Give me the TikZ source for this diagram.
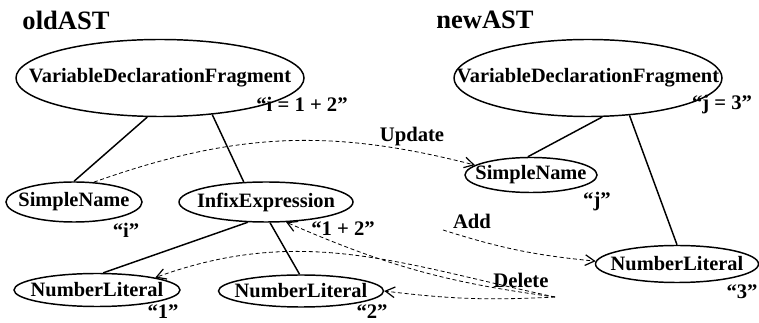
\documentclass[tikz,border=0pt]{standalone}
\usepackage{fontspec}
\setmainfont{Liberation Serif}
\usetikzlibrary{shapes.geometric,arrows.meta}
\def\px{0.75pt}
% ellipse size is set by minimum width/height only
\newcommand\astbox[1]{\makebox[0pt]{#1}}
\tikzset{
  astnode/.style={draw, ellipse, line width=1.1pt, inner sep=0pt, font=\fontsize{15.3}{18}\selectfont\bfseries},
  astlabel/.style={inner sep=0pt, font=\fontsize{15.5}{18}\selectfont\bfseries},
  asttitle/.style={inner sep=0pt, font=\fontsize{19.9}{22}\selectfont\bfseries},
  treeedge/.style={line width=1.1pt},
  editarrow/.style={line width=0.6pt, dash pattern=on 3pt off 2pt, -{Straight Barb[length=7pt,width=8pt,line width=0.9pt]}}
}
\begin{document}
\begin{tikzpicture}[x=\px,y=-\px]
\useasboundingbox (0,0) rectangle (759,323);
% old tree
\node[asttitle] (oldtitle) at (66,20) {oldAST};
\node[astnode, minimum width=288*\px, minimum height=77*\px] (oldvdf) at (160,78) {\astbox{VariableDeclarationFragment}};
\node[astnode, minimum width=136*\px, minimum height=40*\px] (oldsn) at (74,202) {\astbox{SimpleName}};
\node[astnode, minimum width=174*\px, minimum height=40*\px] (oldinfix) at (266,202) {\astbox{InfixExpression}};
\node[astnode, minimum width=166*\px, minimum height=33*\px] (oldnlone) at (97,290) {\astbox{NumberLiteral}};
\node[astnode, minimum width=165*\px, minimum height=32*\px] (oldnltwo) at (301,291) {\astbox{NumberLiteral}};
\node[astlabel] (oldvdfval) at (302,104) {“i = 1 + 2”};
\node[astlabel] (oldsnval) at (126,230) {“i”};
\node[astlabel] (oldinfixval) at (343,229) {“1 + 2”};
\node[astlabel] (oldnloneval) at (163,312) {“1”};
\node[astlabel] (oldnltwoval) at (372,312) {“2”};
\draw[treeedge] (oldvdf.-108) -- (oldsn.north);
\draw[treeedge] (oldvdf.-35) -- (oldinfix.138);
\draw[treeedge] (oldinfix.228) -- (oldnlone.70);
\draw[treeedge] (oldinfix.-79) -- (oldnltwo.95);
% new tree
\node[asttitle] (newtitle) at (485,20) {newAST};
\node[astnode, minimum width=268*\px, minimum height=77*\px] (newvdf) at (588,78) {\astbox{VariableDeclarationFragment}};
\node[astnode, minimum width=132*\px, minimum height=35*\px] (newsn) at (531,175) {\astbox{SimpleName}};
\node[astnode, minimum width=163*\px, minimum height=37*\px] (newnl) at (677,264) {\astbox{NumberLiteral}};
\node[astlabel] (newvdfval) at (722,105) {“j = 3”};
\node[astlabel] (newsnval) at (597,202) {“j”};
\node[astlabel] (newnlval) at (742,292) {“3”};
\draw[treeedge] (newvdf.-70) -- (newsn.100);
\draw[treeedge] (newvdf.-42) -- (newnl.north);
% edit actions
\node[astlabel] (update) at (412,137) {Update};
\node[astlabel] (add) at (472,221) {Add};
\node[astlabel] (delete) at (521,280) {Delete};
\coordinate (addsrc) at (443,230);
\coordinate (delsrc) at (555,297);
\draw[editarrow] (oldsn.45) to[bend left=17] (newsn.170);
\draw[editarrow] (addsrc) to[bend right=6] (newnl.178);
\draw[editarrow] (delsrc) to[bend left=8] (oldinfix.-45);
\draw[editarrow] (delsrc) to[out=168,in=20] (oldnlone.12);
\draw[editarrow] (delsrc) to[bend left=5] (oldnltwo.east);
\end{tikzpicture}
\end{document}
